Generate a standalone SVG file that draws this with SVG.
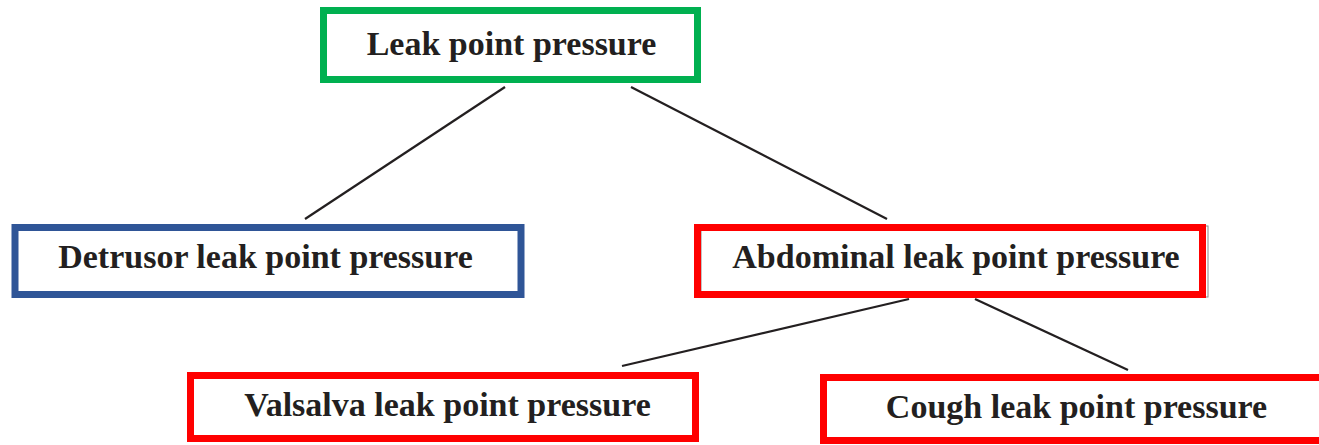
<svg xmlns="http://www.w3.org/2000/svg" width="1319" height="445" viewBox="0 0 1319 445">
<style>
.box{fill:#fff;stroke-width:7}
.lbl{font-family:"Liberation Serif","Times New Roman",serif;font-weight:bold;font-size:34px;fill:#231f20;text-anchor:middle}
.conn line{stroke:#231f20;stroke-width:2.2}
</style>
<rect width="1319" height="445" fill="#fff"/>
<g id="connectors" class="conn">
<line x1="505" y1="87" x2="305" y2="219"/>
<line x1="631" y1="87" x2="887" y2="219"/>
<line x1="909" y1="299" x2="622" y2="366"/>
<line x1="975" y1="299" x2="1128" y2="370"/>
</g>
<g id="n-lpp">
<rect class="box" x="323.5" y="10.5" width="374" height="69" stroke="#00b050"/>
<text class="lbl" x="511.5" y="55">Leak point pressure</text>
</g>
<g id="n-detrusor">
<rect class="box" x="15" y="227.5" width="506" height="67" stroke="#2f5597"/>
<text class="lbl" x="265.5" y="268">Detrusor leak point pressure</text>
</g>
<g id="n-abdominal">
<rect x="701" y="226" width="507" height="71" fill="none" stroke="#888" stroke-width="1"/>
<rect class="box" x="697.5" y="227.5" width="505" height="67" stroke="#ff0000" fill-opacity="0"/>
<text class="lbl" x="956" y="268">Abdominal leak point pressure</text>
</g>
<g id="n-valsalva">
<rect class="box" x="190.5" y="375.5" width="505" height="63" stroke="#ff0000"/>
<text class="lbl" x="447.5" y="416">Valsalva leak point pressure</text>
</g>
<g id="n-cough">
<rect class="box" x="823.5" y="377.5" width="505" height="63" stroke="#ff0000"/>
<text class="lbl" x="1076.5" y="418">Cough leak point pressure</text>
</g>
</svg>
